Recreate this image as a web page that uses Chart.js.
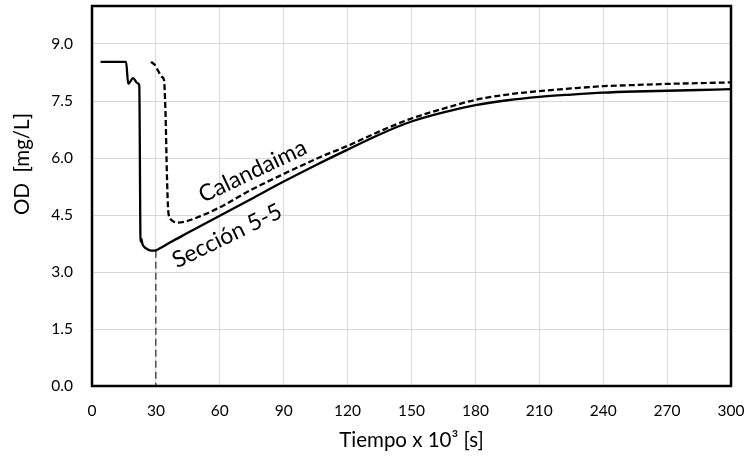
<!DOCTYPE html>
<html>
<head>
<meta charset="utf-8">
<script src="https://cdn.jsdelivr.net/npm/chart.js@4.4.1/dist/chart.umd.min.js"></script>
<style>
html,body{margin:0;padding:0;background:#fff;}
#c{display:block;}
</style>
</head>
<body>
<canvas id="c" width="751" height="462"></canvas>
<script>
// ---- data (time in 10^3 s, OD in mg/L) ----
const seccionT  = [4, 16, 17, 19.3, 21.3, 22.2, 22.8, 23.2, 23.6, 24.2, 26, 28, 30, 33, 37, 45, 60, 75, 90, 105, 120, 135, 150, 165, 180, 195, 210, 225, 240, 255, 270, 285, 300];
const seccionOD = [8.53, 8.53, 7.95, 8.1, 7.97, 7.9, 3.8, 3.87, 3.75, 3.68, 3.6, 3.56, 3.57, 3.66, 3.79, 4.03, 4.48, 4.93, 5.38, 5.81, 6.22, 6.62, 6.96, 7.2, 7.39, 7.52, 7.61, 7.67, 7.72, 7.75, 7.77, 7.79, 7.81];
const calandaimaT  = [27.7, 29.5, 31, 32.7, 33.8, 34.5, 35.2, 35.8, 36.8, 38.5, 40, 44, 50, 60, 75, 90, 107, 120, 135, 150, 165, 180, 195, 210, 225, 240, 255, 270, 285, 300];
const calandaimaOD = [8.53, 8.45, 8.3, 8.14, 8.05, 7.2, 5.5, 4.6, 4.4, 4.32, 4.3, 4.33, 4.45, 4.7, 5.17, 5.58, 6.02, 6.32, 6.7, 7.04, 7.3, 7.53, 7.67, 7.76, 7.83, 7.89, 7.92, 7.95, 7.97, 7.99];
const markerT  = [30, 30];
const markerOD = [3.56, 0];
const xLimits = [0, 300];
const yLimits = [0, 10];
const xStep = 30;
const yStep = 1.5;
const labelSeccion = 'Sección 5-5';
const labelCalandaima = 'Calandaima';
const xTitle = 'Tiempo x 10³ [s]';
const yTitle = 'OD  [mg/L]';

const pts = (xs, ys) => xs.map((x, i) => ({x: x, y: ys[i]}));
const FONT = 'Lato, "Open Sans", sans-serif';

const framePlugin = {
  id: 'frame',
  afterDatasetsDraw(chart) {
    const {ctx, chartArea: a, scales} = chart;
    ctx.save();
    ctx.strokeStyle = '#000';
    ctx.lineWidth = 2.5;
    ctx.strokeRect(a.left, a.top, a.right - a.left, a.bottom - a.top);
    ctx.restore();

    ctx.save();
    ctx.fillStyle = '#000';
    ctx.textAlign = 'center';
    ctx.textBaseline = 'middle';
    ctx.font = '23px ' + FONT;
    const xs = scales.x, ys = scales.y;
    // Calandaima label
    ctx.save();
    ctx.translate(xs.getPixelForValue(75.5), ys.getPixelForValue(5.65));
    ctx.rotate(-25.5 * Math.PI / 180);
    ctx.fillText(labelCalandaima, 0, 0);
    ctx.restore();
    // Seccion label
    ctx.save();
    ctx.translate(xs.getPixelForValue(63.4), ys.getPixelForValue(3.95));
    ctx.rotate(-26 * Math.PI / 180);
    ctx.fillText(labelSeccion, 0, 0);
    ctx.restore();
    // Y title
    ctx.save();
    ctx.font = '20.5px ' + FONT;
    ctx.translate(22, 164);
    ctx.rotate(-Math.PI / 2);
    ctx.fillText(yTitle, 0, 0);
    ctx.restore();
    ctx.restore();
  }
};

new Chart(document.getElementById('c'), {
  type: 'line',
  data: {
    datasets: [
      { label: labelSeccion, data: pts(seccionT, seccionOD), borderColor: '#000', borderWidth: 2.3, pointRadius: 0, cubicInterpolationMode: 'monotone', fill: false },
      { label: labelCalandaima, data: pts(calandaimaT, calandaimaOD), borderColor: '#000', borderWidth: 2.3, borderDash: [6, 3], pointRadius: 0, cubicInterpolationMode: 'monotone', fill: false },
      { label: 'marker', data: pts(markerT, markerOD), borderColor: '#000', borderWidth: 1, borderDash: [7, 4], pointRadius: 0, fill: false }
    ]
  },
  options: {
    responsive: false,
    animation: false,
    devicePixelRatio: 1,
    layout: { autoPadding: false, padding: { left: 0, right: 20, top: 6, bottom: 0 } },
    plugins: { legend: { display: false }, title: { display: false }, tooltip: { enabled: false } },
    scales: {
      x: {
        type: 'linear', min: xLimits[0], max: xLimits[1],
        afterFit(s) { s.height = 76; s.paddingLeft = 0; s.paddingRight = 0; },
        ticks: { stepSize: xStep, color: '#000', font: { family: FONT, size: 15.5 }, padding: 16, maxRotation: 0 },
        grid: { color: '#d9d9d9', lineWidth: 1, drawTicks: false },
        border: { display: false },
        title: { display: true, text: xTitle, color: '#000', font: { family: FONT, size: 20.5 }, padding: { top: 0, bottom: 9 } }
      },
      y: {
        type: 'linear', min: yLimits[0], max: yLimits[1],
        afterFit(s) { s.width = 92; s.paddingTop = 0; s.paddingBottom = 0; },
        ticks: { stepSize: yStep, includeBounds: false, color: '#000', font: { family: FONT, size: 15.5 }, padding: 19, callback: v => Number(v).toFixed(1) },
        grid: { color: '#d9d9d9', lineWidth: 1, drawTicks: false },
        border: { display: false }
      }
    }
  },
  plugins: [framePlugin]
});
</script>
</body>
</html>
